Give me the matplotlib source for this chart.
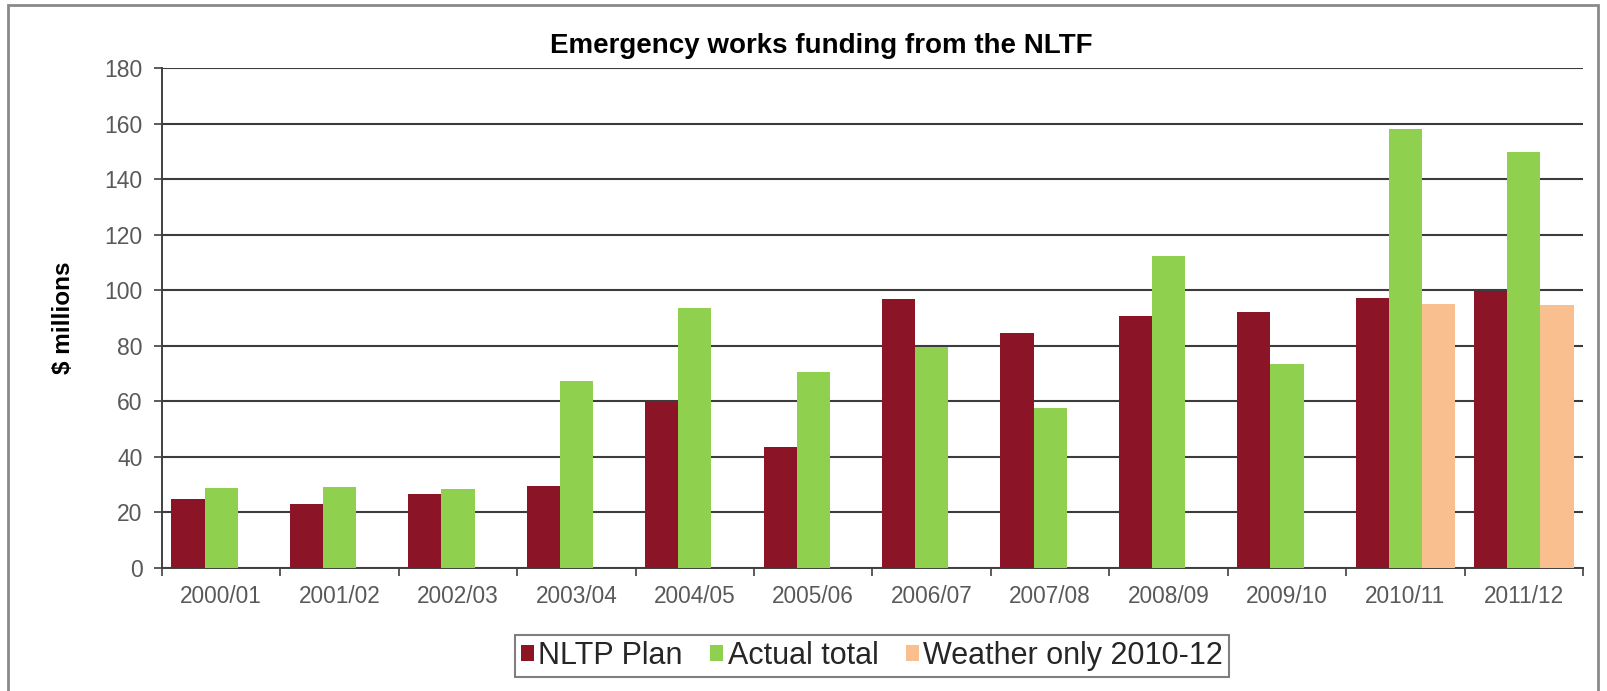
import numpy as np
import matplotlib
matplotlib.use("Agg")
import matplotlib.pyplot as plt
from matplotlib.patches import Rectangle

plt.rcParams['font.family'] = ['Liberation Sans', 'DejaVu Sans']

# Jahre und Werte ($ Mio.)
years = ["2000/01", "2001/02", "2002/03", "2003/04", "2004/05", "2005/06",
         "2006/07", "2007/08", "2008/09", "2009/10", "2010/11", "2011/12"]
nltp_plan = [24.8, 23.0, 26.6, 29.4, 59.6, 43.4, 97.0, 84.7, 90.8, 92.3, 97.3, 99.8]
actual_total = [28.7, 29.1, 28.4, 67.5, 93.7, 70.7, 79.4, 57.5, 112.4, 73.3, 158.0, 149.7]
weather_years = ["2010/11", "2011/12"]
weather_only = [95.2, 94.8]

yticks = [0, 20, 40, 60, 80, 100, 120, 140, 160, 180]

c_plan = "#8b1427"
c_actual = "#8fd14f"
c_weather = "#f9bf8f"
grau = "#595959"

fig = plt.figure(figsize=(16.08, 6.91), dpi=100)
ax = fig.add_axes([162 / 1608, 1 - 568 / 691, (1583 - 162) / 1608, (568 - 68) / 691])

x = np.arange(len(years))
w = 0.28
ax.bar(x - w, nltp_plan, w, color=c_plan, label="NLTP Plan", zorder=3)
ax.bar(x, actual_total, w, color=c_actual, label="Actual total", zorder=3)
xw = np.array([years.index(j) for j in weather_years])
ax.bar(xw + w, weather_only, w, color=c_weather, label="Weather only 2010-12", zorder=3)

ax.set_xlim(-0.5, len(years) - 0.5)
ax.set_ylim(0, 180)
ax.set_yticks(yticks)
ax.set_yticklabels([str(v) for v in yticks], fontsize=16.5, color=grau)
ax.yaxis.grid(True, color="#3c3c3c", lw=1.5, zorder=0)
ax.tick_params(axis="y", length=6, width=1.2, color="#404040", pad=8)

# Kategorien mittig, Teilstriche an den Grenzen
ax.set_xticks(x)
ax.set_xticklabels(years, fontsize=16.3, color=grau)
ax.set_xticks(np.arange(len(years) + 1) - 0.5, minor=True)
ax.tick_params(axis="x", which="major", length=0, pad=12)
ax.tick_params(axis="x", which="minor", length=6, width=1.2, color="#404040")

for s in ["top", "right"]:
    ax.spines[s].set_visible(False)
for s in ["left", "bottom"]:
    ax.spines[s].set_color("#404040")
    ax.spines[s].set_linewidth(1.4)

fig.text(64 / 1608, 1 - 318 / 691, "$ millions", fontsize=17.5, fontweight="bold",
         rotation=90, ha="center", va="center")

fig.text(821 / 1608, 1 - 46 / 691, "Emergency works funding from the NLTF",
         fontsize=20, fontweight="bold", ha="center", va="center")

leg = fig.legend(loc="center", bbox_to_anchor=(872 / 1608, 1 - 656 / 691), ncol=3,
                 fontsize=22, frameon=True, fancybox=False, framealpha=1,
                 handlelength=0.42, handleheight=0.42, handletextpad=0.15,
                 columnspacing=0.9, borderpad=0.2, borderaxespad=0)
leg.get_frame().set_edgecolor("#7f7f7f")
leg.get_frame().set_linewidth(1.5)
for t in leg.get_texts():
    t.set_color("#262626")

# Rahmen um das ganze Diagramm
fig.patches.append(Rectangle((8 / 1608, -0.02), (1598 - 8) / 1608, 1 - 5 / 691 + 0.02,
                             transform=fig.transFigure, fill=False,
                             edgecolor="#8a8a8a", lw=2))

fig.savefig("out.png", dpi=100)
